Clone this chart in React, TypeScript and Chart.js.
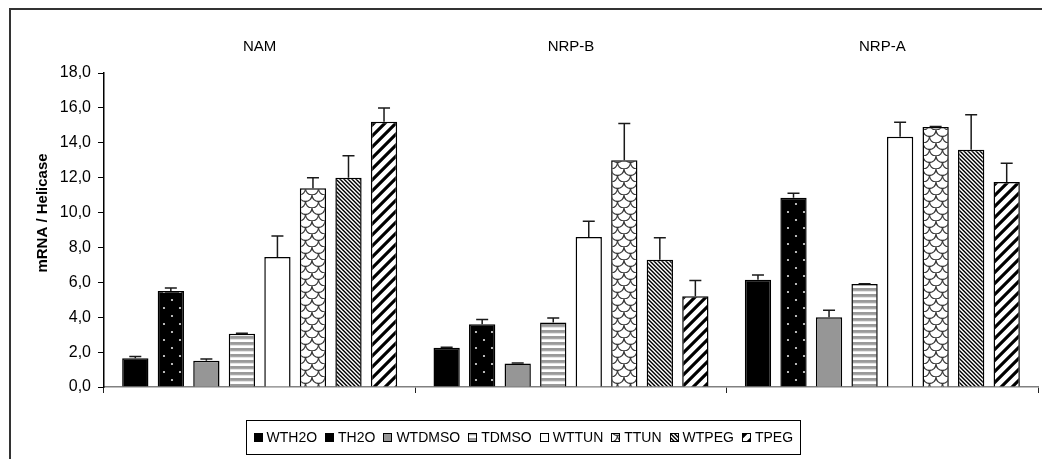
import React, { useEffect, useRef } from "react";
import { Chart, registerables } from "chart.js";

Chart.register(...registerables);

// Groups along the category axis
const groups = ["NAM", "NRP-B", "NRP-A"];

// Treatment series, values per group [NAM, NRP-B, NRP-A]
const seriesNames = ["WTH2O", "TH2O", "WTDMSO", "TDMSO", "WTTUN", "TTUN", "WTPEG", "TPEG"];
const WTH2O = [1.65, 2.25, 6.15];
const TH2O = [5.5, 3.6, 10.85];
const WTDMSO = [1.5, 1.35, 4.0];
const TDMSO = [3.05, 3.7, 5.9];
const WTTUN = [7.45, 8.6, 14.35];
const TTUN = [11.4, 13.0, 14.9];
const WTPEG = [12.0, 7.3, 13.6];
const TPEG = [15.2, 5.2, 11.75];

// Upper error (standard deviation) per series and group
const WTH2O_err = [0.1, 0.03, 0.27];
const TH2O_err = [0.17, 0.27, 0.25];
const WTDMSO_err = [0.1, 0.02, 0.4];
const TDMSO_err = [0.03, 0.26, 0.02];
const WTTUN_err = [1.2, 0.9, 0.83];
const TTUN_err = [0.6, 2.1, 0.03];
const WTPEG_err = [1.26, 1.26, 2.0];
const TPEG_err = [0.8, 0.9, 1.08];

// Y axis ticks
const yTicks = [0, 2, 4, 6, 8, 10, 12, 14, 16, 18];
const yTitle = "mRNA / Helicase";

const seriesValues = [WTH2O, TH2O, WTDMSO, TDMSO, WTTUN, TTUN, WTPEG, TPEG];
const seriesErrors = [WTH2O_err, TH2O_err, WTDMSO_err, TDMSO_err, WTTUN_err, TTUN_err, WTPEG_err, TPEG_err];

const FONT = "'Liberation Sans', Arial, sans-serif";

// Builds a tile by supersampling a shading function
function shadedTile(w: number, h: number, shade: (x: number, y: number) => number): HTMLCanvasElement {
  const c = document.createElement("canvas");
  c.width = w;
  c.height = h;
  const g = c.getContext("2d")!;
  const img = g.createImageData(w, h);
  const ss = 4;
  for (let y = 0; y < h; y++) {
    for (let x = 0; x < w; x++) {
      let acc = 0;
      for (let sy = 0; sy < ss; sy++) {
        for (let sx = 0; sx < ss; sx++) {
          acc += shade(x + (sx + 0.5) / ss, y + (sy + 0.5) / ss);
        }
      }
      const v = Math.round((acc / (ss * ss)) * 255);
      const i = (y * w + x) * 4;
      img.data[i] = v;
      img.data[i + 1] = v;
      img.data[i + 2] = v;
      img.data[i + 3] = 255;
    }
  }
  g.putImageData(img, 0, 0);
  return c;
}

function makeFills(ctx: CanvasRenderingContext2D): (string | CanvasPattern)[] {
  // black with light dots
  const dots = document.createElement("canvas");
  dots.width = 16;
  dots.height = 16;
  {
    const g = dots.getContext("2d")!;
    g.fillStyle = "#000";
    g.fillRect(0, 0, 16, 16);
    g.fillStyle = "#e0e0e0";
    g.beginPath();
    g.arc(4, 4, 1.1, 0, Math.PI * 2);
    g.arc(12, 12, 1.1, 0, Math.PI * 2);
    g.fill();
  }

  // horizontal gray stripes
  const hstripes = document.createElement("canvas");
  hstripes.width = 4;
  hstripes.height = 6;
  {
    const g = hstripes.getContext("2d")!;
    const rows = ["#9a9a9a", "#9a9a9a", "#a8a8a8", "#e4e4e4", "#ffffff", "#ffffff"];
    rows.forEach((col, i) => {
      g.fillStyle = col;
      g.fillRect(0, i, 4, 1);
    });
  }

  // interlocking scale outline pattern
  const scales = document.createElement("canvas");
  scales.width = 13;
  scales.height = 13;
  {
    const g = scales.getContext("2d")!;
    g.fillStyle = "#fff";
    g.fillRect(0, 0, 13, 13);
    g.strokeStyle = "#3a3a3a";
    g.lineWidth = 1.3;
    g.beginPath();
    g.arc(6.5, 0, 6.5, 0, Math.PI);
    g.stroke();
    g.beginPath();
    g.arc(0, 6.5, 6.5, 0, Math.PI / 2);
    g.stroke();
    g.beginPath();
    g.arc(13, 6.5, 6.5, Math.PI / 2, Math.PI);
    g.stroke();
  }

  // dense "\" stripes
  const back = shadedTile(8, 8, (x, y) => {
    const u = (((x - y) % 4) + 4) % 4;
    return u < 2 ? 0 : 1;
  });

  // wide "/" stripes
  const fwd = shadedTile(11, 11, (x, y) => {
    const u = (x + y) % 11;
    return u < 4.5 ? 0 : 1;
  });

  return [
    "#000000",
    ctx.createPattern(dots, "repeat")!,
    "#969696",
    ctx.createPattern(hstripes, "repeat")!,
    "#ffffff",
    ctx.createPattern(scales, "repeat")!,
    ctx.createPattern(back, "repeat")!,
    ctx.createPattern(fwd, "repeat")!,
  ];
}

const fmt = (v: number) => v.toFixed(1).replace(".", ",");

// White page, outer frame
const framePlugin = {
  id: "frame",
  beforeDraw(chart: any) {
    const { ctx, width, height } = chart;
    ctx.save();
    ctx.fillStyle = "#fff";
    ctx.fillRect(0, 0, width, height);
    ctx.strokeStyle = "#333";
    ctx.lineWidth = 2;
    ctx.strokeRect(10, 9, width + 20, height + 20);
    ctx.restore();
  },
};

// Upper error whiskers with caps
const errorBarPlugin = {
  id: "errorBars",
  afterDatasetsDraw(chart: any) {
    const { ctx } = chart;
    const yScale = chart.scales.y;
    ctx.save();
    ctx.strokeStyle = "#1a1a1a";
    ctx.lineWidth = 1.5;
    chart.data.datasets.forEach((ds: any, di: number) => {
      const meta = chart.getDatasetMeta(di);
      meta.data.forEach((bar: any, i: number) => {
        const v = ds.data[i];
        const e = seriesErrors[di][i];
        const yTop = yScale.getPixelForValue(v + e);
        const yBar = bar.y;
        ctx.beginPath();
        ctx.moveTo(bar.x, yBar);
        ctx.lineTo(bar.x, yTop);
        ctx.moveTo(bar.x - 6, yTop);
        ctx.lineTo(bar.x + 6, yTop);
        ctx.stroke();
      });
    });
    ctx.restore();
  },
};

// Rotated y-axis title
const yTitlePlugin = {
  id: "yTitle",
  afterDraw(chart: any) {
    const { ctx } = chart;
    ctx.save();
    ctx.translate(43, 213);
    ctx.rotate(-Math.PI / 2);
    ctx.font = `bold 15px ${FONT}`;
    ctx.fillStyle = "#000";
    ctx.textAlign = "center";
    ctx.textBaseline = "middle";
    ctx.fillText(yTitle, 0, 0);
    ctx.restore();
  },
};

// Boxed legend below the plot
const legendPlugin = {
  id: "boxLegend",
  afterDraw(chart: any) {
    const { ctx } = chart;
    const datasets = chart.data.datasets;
    ctx.save();
    ctx.font = `14px ${FONT}`;
    const sw = 9;
    const gapText = 4;
    const gapItem = 8;
    const widths = datasets.map((d: any) => sw + gapText + ctx.measureText(d.label).width);
    const total = widths.reduce((a: number, b: number) => a + b, 0) + gapItem * (datasets.length - 1);
    const padX = 7;
    const cx = 522.5;
    const boxL = Math.round(cx - total / 2 - padX) + 0.5;
    const boxW = Math.round(total + padX * 2);
    const boxT = 420.5;
    const boxH = 34;
    ctx.strokeStyle = "#000";
    ctx.lineWidth = 1;
    ctx.strokeRect(boxL, boxT, boxW, boxH);
    const midY = boxT + boxH / 2;
    let x = boxL + padX;
    datasets.forEach((d: any, i: number) => {
      ctx.fillStyle = d.backgroundColor;
      ctx.fillRect(Math.round(x), Math.round(midY - sw / 2), sw, sw);
      ctx.strokeStyle = "#000";
      ctx.lineWidth = 1;
      ctx.strokeRect(Math.round(x) + 0.5, Math.round(midY - sw / 2) + 0.5, sw - 1, sw - 1);
      ctx.fillStyle = "#000";
      ctx.textAlign = "left";
      ctx.textBaseline = "middle";
      ctx.fillText(d.label, x + sw + gapText, midY + 1);
      x += widths[i] + gapItem;
    });
    ctx.restore();
  },
};

export default function App() {
  const canvasRef = useRef<HTMLCanvasElement | null>(null);

  useEffect(() => {
    const canvas = canvasRef.current;
    if (!canvas) return;
    const ctx = canvas.getContext("2d")!;
    const fills = makeFills(ctx);

    const chart = new Chart(ctx, {
      type: "bar",
      data: {
        labels: groups,
        datasets: seriesNames.map((name, i) => ({
          label: name,
          data: seriesValues[i],
          backgroundColor: fills[i] as any,
          borderColor: "#000",
          borderWidth: 1.5,
          xAxisID: "x",
          yAxisID: "y",
        })),
      },
      options: {
        responsive: false,
        animation: false,
        events: [],
        layout: { padding: { left: 0, right: 4, top: 0, bottom: 66 } },
        datasets: {
          bar: { categoryPercentage: 0.913, barPercentage: 0.74 },
        },
        plugins: {
          legend: { display: false },
          tooltip: { enabled: false },
        },
        scales: {
          x: {
            type: "category",
            position: "bottom",
            offset: true,
            grid: { offset: true, drawOnChartArea: false, tickLength: 6, color: "#222", lineWidth: 1 },
            border: { display: true, color: "#808080", width: 1.5 },
            ticks: { display: false },
            afterFit(scale: any) {
              scale.height = 6;
            },
          },
          xTop: {
            type: "category",
            position: "top",
            offset: true,
            grid: { display: false, drawTicks: false },
            border: { display: false },
            ticks: { color: "#000", font: { family: FONT, size: 15 }, padding: 17 },
            afterFit(scale: any) {
              scale.height = 73;
            },
          },
          y: {
            type: "linear",
            position: "left",
            min: yTicks[0],
            max: yTicks[yTicks.length - 1],
            afterBuildTicks(scale: any) {
              scale.ticks = yTicks.map((v) => ({ value: v }));
            },
            ticks: {
              color: "#000",
              font: { family: FONT, size: 16 },
              padding: 7,
              callback: (v: any) => fmt(Number(v)),
            },
            grid: { drawOnChartArea: false, tickLength: 6, color: "#000", lineWidth: 1 },
            border: { display: true, color: "#000", width: 1.5 },
            afterFit(scale: any) {
              scale.width = 104;
            },
          },
        },
      } as any,
      plugins: [framePlugin, errorBarPlugin, yTitlePlugin, legendPlugin],
    });

    return () => chart.destroy();
  }, []);

  return (
    <div style={{ position: "absolute", left: 0, top: 0, width: 1042, height: 459 }}>
      <canvas ref={canvasRef} width={1042} height={459} style={{ display: "block" }} />
    </div>
  );
}
